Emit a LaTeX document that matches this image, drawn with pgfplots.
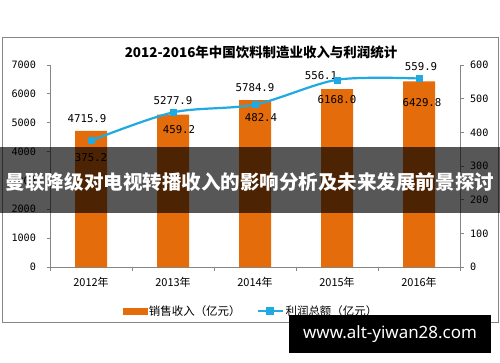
\documentclass[border=0pt]{standalone}
\usepackage{pgfplots}
\pgfplotsset{compat=1.18}
\usepackage{fontspec}
\setmainfont{Noto Sans CJK SC}
\newfontfamily\monof{DejaVu Sans Mono}
\newfontfamily\latinb{Noto Sans}
\definecolor{barorange}{HTML}{E46C0A}
\definecolor{lineblue}{HTML}{1FAAE1}
\definecolor{axisgray}{HTML}{868686}
\pgfplotsset{
  common/.style={
    at={(50bp,95bp)}, anchor=south west, scale only axis,
    width=410bp, height=202bp,
    xmin=-0.5, xmax=4.5, clip=false,
    axis line style={axisgray, line width=0.8bp},
    tick style={axisgray, line width=0.8bp},
    major tick length=3.5bp,
    tick align=outside,
    /pgf/number format/assume math mode=true,
    /pgf/number format/1000 sep={},
    yticklabel style={font=\monof\fontsize{10.2}{12}\selectfont, text=black},
  }
}
\begin{document}
\begin{tikzpicture}[x=1bp,y=1bp]
\useasboundingbox (0,0) rectangle (500,362);
\fill[white] (0,0) rectangle (500,362);
\draw[axisgray, line width=0.8bp] (2,40) rectangle (498,325);
\node[font=\fontsize{13.5}{15}\selectfont\bfseries] at (261,310) {2012-2016年中国饮料制造业收入与利润统计};

\begin{axis}[common,
  ymin=0, ymax=7000,
  ytick={0,1000,...,7000},
  axis x line*=bottom, axis y line*=left,
  xtick={-0.5,0.5,1.5,2.5,3.5,4.5}, xticklabels={},
  extra x ticks={0,1,2,3,4},
  extra x tick labels={2012年,2013年,2014年,2015年,2016年},
  extra x tick style={major tick length=0pt, grid=none},
  xticklabel style={font=\fontsize{11}{13}\selectfont, yshift=-7bp},
  yticklabel style={xshift=-7bp},
  ybar, bar width=32bp,
  scaled y ticks=false,
]
\addplot[fill=barorange, draw=none, bar shift=0pt] coordinates {(0,4715.9)(1,5277.9)(2,5784.9)(3,6168.0)(4,6429.8)};
\begin{scope}[every node/.style={font=\monof\fontsize{10.8}{12}\selectfont, inner sep=0pt}]
\node[xshift=-4bp, yshift=12bp] at (axis cs:0,4715.9) {4715.9};
\node[yshift=14bp] at (axis cs:1,5277.9) {5277.9};
\node[yshift=12bp] at (axis cs:2,5784.9) {5784.9};
\node[yshift=-11bp] at (axis cs:3,6168.0) {6168.0};
\node[xshift=3bp, yshift=-21.5bp] at (axis cs:4,6429.8) {6429.8};
\end{scope}
\end{axis}

\begin{axis}[common,
  ymin=0, ymax=600,
  ytick={0,100,...,600},
  axis y line*=right, axis x line=none,
  yticklabel style={xshift=3bp},
  legend style={at={(0.49,-0.218)}, anchor=center, draw=none, fill=none,
    legend columns=2, font=\fontsize{11.5}{13}\selectfont,
    /tikz/every even column/.append style={column sep=14bp},
    inner sep=0pt, cells={anchor=west}},
]
\addlegendimage{legend image code/.code={\fill[barorange] (0bp,-3bp) rectangle (24bp,3bp);}}
\addlegendentry{销售收入（亿元）}
\addplot[lineblue, line width=2.2bp, smooth, mark=square*, mark size=3bp,
  mark options={fill=lineblue, draw=lineblue, line width=0.5bp},
  legend image code/.code={\draw[lineblue, line width=2bp] (0bp,0bp) -- (25bp,0bp);
    \fill[lineblue] (9.5bp,-3bp) rectangle (15.5bp,3bp);}]
  coordinates {(0,375.2)(1,459.2)(2,482.4)(3,556.1)(4,559.9)};
\addlegendentry{利润总额（亿元）}
\begin{scope}[every node/.style={font=\monof\fontsize{10.8}{12}\selectfont, inner sep=0pt}]
\node[yshift=-17bp] at (axis cs:0,375.2) {375.2};
\node[xshift=6bp, yshift=-17.5bp] at (axis cs:1,459.2) {459.2};
\node[xshift=6bp, yshift=-13bp] at (axis cs:2,482.4) {482.4};
\node[xshift=-16bp, yshift=4bp] at (axis cs:3,556.1) {556.1};
\node[xshift=2bp, yshift=11.5bp] at (axis cs:4,559.9) {559.9};
\end{scope}
\end{axis}

% overlay banners
\fill[black, opacity=0.66] (0,149) rectangle (500,215);
\node[text=white, font=\fontsize{19.6}{22}\selectfont\bfseries, inner sep=0pt] at (250,180) {曼联降级对电视转播收入的影响分析及未来发展前景探讨};
\fill[black] (289,9) rectangle (491,47);
\node[text=white, font=\latinb\fontsize{17}{19}\selectfont\bfseries] at (390,28) {www.alt-yiwan28.com};
\end{tikzpicture}
\end{document}
